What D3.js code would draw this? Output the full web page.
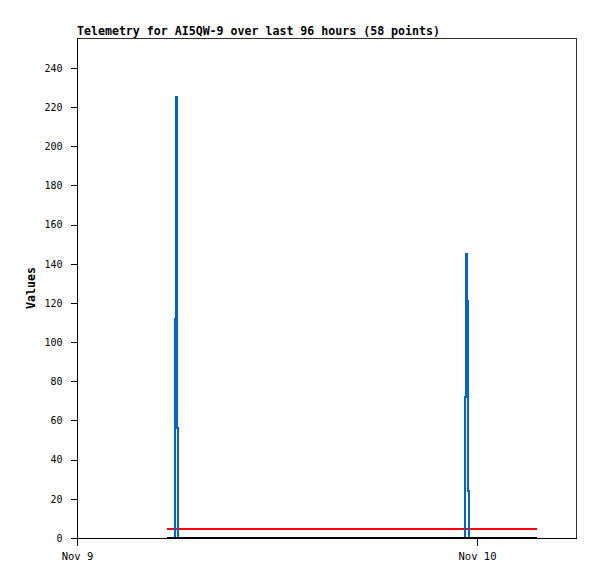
<!DOCTYPE html>
<html>
<head>
<meta charset="utf-8">
<script src="https://cdn.jsdelivr.net/npm/d3@7"></script>
<style>
  html, body { margin: 0; padding: 0; background: #fff; }
  svg { display: block; }
  text { font-family: "DejaVu Sans Mono", "Liberation Mono", monospace; fill: #000; }
</style>
</head>
<body>
<svg id="chart" width="597" height="579"></svg>
<script>
const title = "Telemetry for AI5QW-9 over last 96 hours (58 points)";
const yLabel = "Values";
const xDomain = ["2024-11-09 00:00:00", "2024-11-10 06:00:00"];
const xTickValues = ["2024-11-09 00:00:00", "2024-11-10 00:00:00"];
const yTicks = [0, 20, 40, 60, 80, 100, 120, 140, 160, 180, 200, 220, 240];
const yMax = 255.3;

const times = [
  "2024-11-09 05:24:00", "2024-11-09 05:31:10", "2024-11-09 05:38:40", "2024-11-09 05:44:30",
  "2024-11-09 05:50:17", "2024-11-09 05:51:22", "2024-11-09 05:56:24", "2024-11-09 05:59:17",
  "2024-11-09 06:01:05", "2024-11-09 06:02:31",
  "2024-11-09 06:15:00", "2024-11-09 06:48:00", "2024-11-09 07:22:00", "2024-11-09 07:55:00",
  "2024-11-09 08:31:00", "2024-11-09 09:04:00", "2024-11-09 09:40:00", "2024-11-09 10:12:00",
  "2024-11-09 10:49:00", "2024-11-09 11:23:00", "2024-11-09 11:58:00", "2024-11-09 12:30:00",
  "2024-11-09 13:07:00", "2024-11-09 13:41:00", "2024-11-09 14:15:00", "2024-11-09 14:50:00",
  "2024-11-09 15:26:00", "2024-11-09 15:59:00", "2024-11-09 16:33:00", "2024-11-09 17:10:00",
  "2024-11-09 17:44:00", "2024-11-09 18:18:00", "2024-11-09 18:52:00", "2024-11-09 19:27:00",
  "2024-11-09 20:01:00", "2024-11-09 20:36:00", "2024-11-09 21:11:00", "2024-11-09 21:45:00",
  "2024-11-09 22:20:00", "2024-11-09 22:54:00",
  "2024-11-09 23:15:43", "2024-11-09 23:16:48", "2024-11-09 23:21:07", "2024-11-09 23:23:17",
  "2024-11-09 23:27:36", "2024-11-09 23:30:29",
  "2024-11-09 23:48:00", "2024-11-10 00:06:00", "2024-11-10 00:25:00", "2024-11-10 00:43:00",
  "2024-11-10 01:02:00", "2024-11-10 01:20:00", "2024-11-10 01:39:00", "2024-11-10 01:57:00",
  "2024-11-10 02:16:00", "2024-11-10 02:34:00", "2024-11-10 02:58:00", "2024-11-10 03:36:00"
];
const blueValues = [
  0, 0, 0, 0,
  0, 112, 225, 168, 56, 0,
  0, 0, 0, 0, 0, 0, 0, 0, 0, 0, 0, 0, 0, 0, 0,
  0, 0, 0, 0, 0, 0, 0, 0, 0, 0, 0, 0, 0, 0, 0,
  0, 72, 145, 121, 24, 0,
  0, 0, 0, 0, 0, 0, 0, 0, 0, 0, 0, 0
];
const redValues = [
  4.5, 4.5, 4.5, 4.5, 4.5, 4.5, 4.5, 4.5, 4.5, 4.5,
  4.5, 4.5, 4.5, 4.5, 4.5, 4.5, 4.5, 4.5, 4.5, 4.5,
  4.5, 4.5, 4.5, 4.5, 4.5, 4.5, 4.5, 4.5, 4.5, 4.5,
  4.5, 4.5, 4.5, 4.5, 4.5, 4.5, 4.5, 4.5, 4.5, 4.5,
  4.5, 4.5, 4.5, 4.5, 4.5, 4.5, 4.5, 4.5, 4.5, 4.5,
  4.5, 4.5, 4.5, 4.5, 4.5, 4.5, 4.5, 4.5
];
const blackValues = [
  0, 0, 0, 0, 0, 0, 0, 0, 0, 0,
  0, 0, 0, 0, 0, 0, 0, 0, 0, 0,
  0, 0, 0, 0, 0, 0, 0, 0, 0, 0,
  0, 0, 0, 0, 0, 0, 0, 0, 0, 0,
  0, 0, 0, 0, 0, 0, 0, 0, 0, 0,
  0, 0, 0, 0, 0, 0, 0, 0
];

const parse = d3.timeParse("%Y-%m-%d %H:%M:%S");
const svg = d3.select("#chart");
const m = { left: 77, top: 38, right: 577, bottom: 538 };

const x = d3.scaleTime().domain(xDomain.map(parse)).range([m.left, m.right]);
const y = d3.scaleLinear().domain([0, yMax]).range([m.bottom, m.top]);

// frame (top and right)
svg.append("path")
  .attr("d", `M${m.left},${m.top + 0.5}H${m.right - 0.5}V${m.bottom}`)
  .attr("fill", "none").attr("stroke", "#333").attr("stroke-width", 1)
  .attr("shape-rendering", "crispEdges");

// y axis
const yAxis = d3.axisLeft(y).tickValues(yTicks).tickSize(7).tickPadding(8);
const gy = svg.append("g").attr("transform", `translate(${m.left + 0.5},0)`).call(yAxis);
gy.select(".domain").attr("d", `M0,${m.top}V${m.bottom + 8}`).attr("stroke", "#000")
  .attr("shape-rendering", "crispEdges");
gy.selectAll(".tick line").attr("stroke", "#000").attr("shape-rendering", "crispEdges");
gy.selectAll(".tick text").attr("font-size", "10px").attr("font-family", "DejaVu Sans Mono, monospace");

// x axis
const xAxis = d3.axisBottom(x).tickValues(xTickValues.map(parse))
  .tickFormat(d3.timeFormat("%b %-d")).tickSize(7).tickPadding(7);
const gx = svg.append("g").attr("transform", `translate(0,${m.bottom + 0.5})`).call(xAxis);
gx.select(".domain").attr("d", `M${m.left},0H${m.right}`).attr("stroke", "#000")
  .attr("shape-rendering", "crispEdges");
gx.selectAll(".tick line").attr("stroke", "#000").attr("shape-rendering", "crispEdges");
gx.selectAll(".tick text").attr("font-size", "10.5px").attr("font-family", "DejaVu Sans Mono, monospace");

// series
const line = d3.line().x(d => x(d.t)).y(d => y(d.v));
const stepLine = d3.line().curve(d3.curveStepAfter).x(d => x(d.t)).y(d => y(d.v));
const mk = vals => times.map((t, i) => ({ t: parse(t), v: vals[i] }));

svg.append("path").datum(mk(redValues)).attr("d", line)
  .attr("fill", "none").attr("stroke", "#ff0000").attr("stroke-width", 2)
  .attr("shape-rendering", "crispEdges");
svg.append("path").datum(mk(blueValues)).attr("d", stepLine)
  .attr("fill", "none").attr("stroke", "#0066cc").attr("stroke-width", 2)
  .attr("shape-rendering", "crispEdges");
svg.append("path").datum(mk(blackValues)).attr("d", line)
  .attr("fill", "none").attr("stroke", "#000").attr("stroke-width", 2)
  .attr("transform", "translate(0,-0.5)").attr("shape-rendering", "crispEdges");

// title
svg.append("text").attr("x", m.left).attr("y", 35)
  .attr("font-size", "11.6px").attr("font-weight", "bold").text(title);

// y label
svg.append("text").attr("transform", `translate(35,${(m.top + m.bottom) / 2}) rotate(-90)`)
  .attr("text-anchor", "middle").attr("font-size", "11.6px").attr("font-weight", "bold").text(yLabel);
</script>
</body>
</html>
